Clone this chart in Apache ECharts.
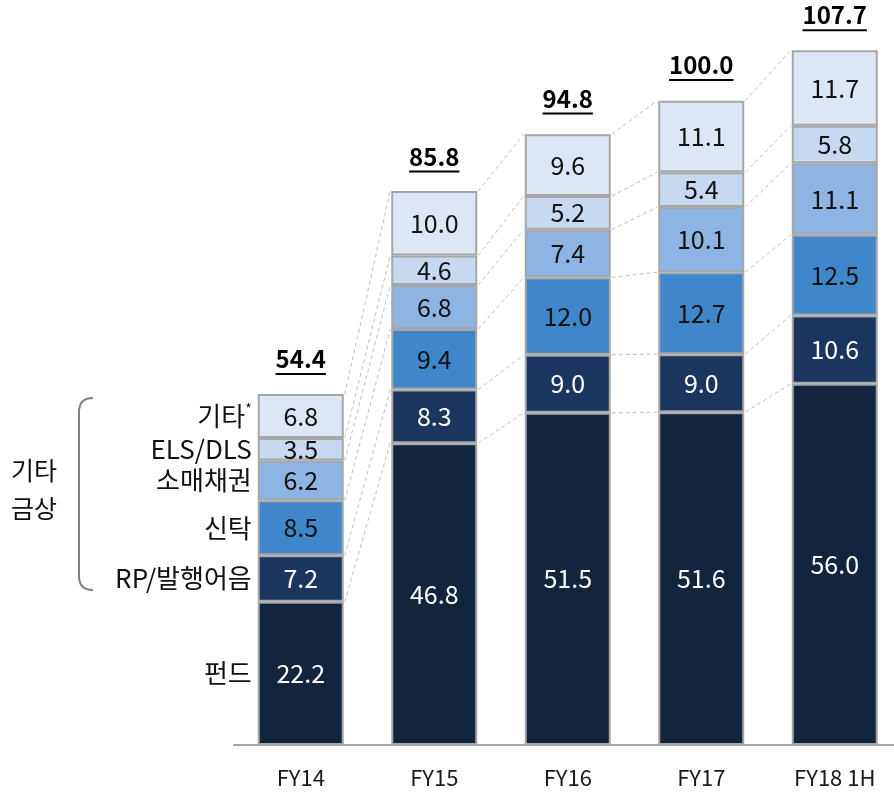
<!DOCTYPE html>
<html>
<head>
<meta charset="utf-8">
<script src="https://cdn.jsdelivr.net/npm/echarts@6/dist/echarts.min.js"></script>
<style>
  html, body { margin: 0; background: #fff; }
  #chart { width: 894px; height: 794px; }
</style>
</head>
<body>
<div id="chart"></div>
<script>
// data
var categories = ['FY14', 'FY15', 'FY16', 'FY17', 'FY18 1H'];
var seriesNames = ['펀드', 'RP/발행어음', '신탁', '소매채권', 'ELS/DLS', '기타'];
var fund = [22.2, 46.8, 51.5, 51.6, 56.0];
var rpNote = [7.2, 8.3, 9.0, 9.0, 10.6];
var trust = [8.5, 9.4, 12.0, 12.7, 12.5];
var retailBond = [6.2, 6.8, 7.4, 10.1, 11.1];
var elsDls = [3.5, 4.6, 5.2, 5.4, 5.8];
var others = [6.8, 10.0, 9.6, 11.1, 11.7];
var totals = [54.4, 85.8, 94.8, 100.0, 107.7];

var stackData = [fund, rpNote, trust, retailBond, elsDls, others];
var colors = ['#13243F', '#1B365E', '#3F87CA', '#8DB4E2', '#C6D9F1', '#DCE6F5'];
var labelColors = ['#fff', '#fff', '#111', '#111', '#111', '#111'];

var FONT = '"Noto Sans CJK KR", "Noto Sans", sans-serif';
var BAR_W = 86;

var myChart = echarts.init(document.getElementById('chart'));

// cumulative tops for each category
function cumAt(i, level) {
  var s = 0;
  for (var k = 0; k <= level; k++) s += stackData[k][i];
  return s;
}

var measureCtx = document.createElement('canvas').getContext('2d');
function textWidth(txt, font) {
  measureCtx.font = font;
  return measureCtx.measureText(txt).width;
}

var series = [];
stackData.forEach(function (arr, k) {
  series.push({
    name: seriesNames[k],
    type: 'bar',
    stack: 'total',
    barWidth: BAR_W,
    data: arr,
    itemStyle: { color: colors[k], borderColor: '#A6A6A6', borderWidth: 2 },
    label: {
      show: true,
      position: 'inside',
      color: labelColors[k],
      fontFamily: FONT,
      fontSize: 25,
      formatter: function (p) { return p.value.toFixed(1); }
    },
    silent: true,
    z: 3
  });
});

// dashed connectors between neighbouring bars
series.push({
  type: 'custom',
  silent: true,
  z: 1,
  data: [0, 1, 2, 3].map(function (i) { return [i, 0]; }),
  encode: { x: 0, y: 1 },
  renderItem: function (params, api) {
    var i = api.value(0);
    var children = [];
    for (var lv = 0; lv < stackData.length; lv++) {
      var a = api.coord([i, cumAt(i, lv)]);
      var b = api.coord([i + 1, cumAt(i + 1, lv)]);
      children.push({
        type: 'line',
        shape: { x1: a[0] + BAR_W / 2 + 1, y1: a[1], x2: b[0] - BAR_W / 2 - 1, y2: b[1] },
        style: { stroke: '#BFBFBF', lineWidth: 1, lineDash: [4, 3] }
      });
    }
    return { type: 'group', children: children };
  }
});

// totals above bars, bold and underlined
series.push({
  type: 'custom',
  silent: true,
  z: 4,
  data: totals.map(function (t, i) { return [i, t]; }),
  encode: { x: 0, y: 1 },
  renderItem: function (params, api) {
    var p = api.coord([api.value(0), api.value(1)]);
    var txt = api.value(1).toFixed(1);
    var w = textWidth(txt, 'bold 24px ' + FONT);
    return {
      type: 'group',
      children: [
        {
          type: 'text',
          style: {
            x: p[0], y: p[1] - 35, text: txt, align: 'center', verticalAlign: 'middle',
            font: 'bold 24px ' + FONT, fill: '#000'
          }
        },
        {
          type: 'line',
          shape: { x1: p[0] - w / 2, y1: p[1] - 20, x2: p[0] + w / 2, y2: p[1] - 20 },
          style: { stroke: '#000', lineWidth: 2 }
        }
      ]
    };
  }
});

// series names left of the first bar
series.push({
  type: 'custom',
  silent: true,
  z: 4,
  data: seriesNames.map(function (n, k) { return [0, cumAt(0, k) - stackData[k][0] / 2, k]; }),
  encode: { x: 0, y: 1 },
  renderItem: function (params, api) {
    var p = api.coord([api.value(0), api.value(1)]);
    var k = api.value(2);
    var txt = k === 5 ? '기타{s|*}' : seriesNames[k];
    return {
      type: 'text',
      style: {
        x: p[0] - BAR_W / 2 - 6, y: p[1], text: txt, align: 'right', verticalAlign: 'middle',
        font: '26px ' + FONT, fill: '#111',
        rich: { s: { fontSize: 14, fontFamily: FONT, verticalAlign: 'top', padding: [0, 0, 14, 0], fill: '#111' } }
      }
    };
  }
});

var option = {
  animation: false,
  backgroundColor: '#fff',
  grid: { left: 234, top: 35.5, width: 667.5, bottom: 49, outerBoundsMode: 'none', containLabel: false },
  xAxis: {
    type: 'category',
    data: categories,
    axisTick: { show: false },
    axisLine: { lineStyle: { color: '#A6A6A6', width: 2 } },
    axisLabel: { color: '#1a1a1a', fontFamily: FONT, fontSize: 22, margin: 22 }
  },
  yAxis: {
    type: 'value',
    min: 0,
    max: 110,
    show: false,
    splitLine: { show: false }
  },
  graphic: [
    {
      type: 'bezierCurve',
      shape: { x1: 93, y1: 398, cpx1: 79, cpy1: 398, x2: 79, y2: 412 },
      style: { stroke: '#808080', lineWidth: 2, fill: null }
    },
    {
      type: 'line',
      shape: { x1: 79, y1: 412, x2: 79, y2: 576 },
      style: { stroke: '#808080', lineWidth: 2 }
    },
    {
      type: 'bezierCurve',
      shape: { x1: 79, y1: 576, cpx1: 79, cpy1: 590, x2: 93, y2: 590 },
      style: { stroke: '#808080', lineWidth: 2, fill: null }
    },
    {
      type: 'text',
      left: 11,
      top: 451,
      style: { text: '기타\n금상', font: '25px ' + FONT, fill: '#111', lineHeight: 38 }
    }
  ],
  series: series
};

myChart.setOption(option);
</script>
</body>
</html>
